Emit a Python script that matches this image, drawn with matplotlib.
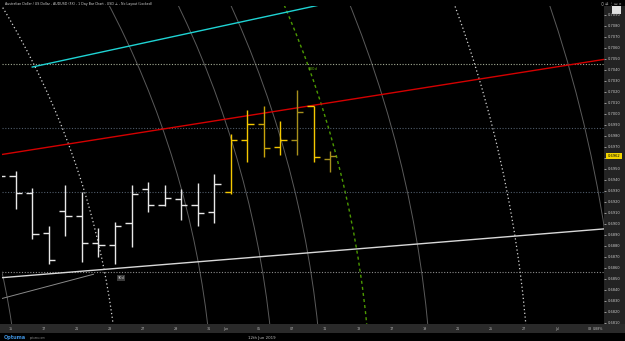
import numpy as np
import matplotlib
matplotlib.use('Agg')
from matplotlib import pyplot as plt
import matplotlib.patches as mpatches
import matplotlib.transforms as mtransforms

# AUDUSD daily bars, index 0 = 15 May 2019 (trading days only)
bar_idx = np.arange(-1, 20)
opens = [0.6950, 0.6944, 0.6928, 0.6892, 0.6912, 0.6907, 0.6883, 0.6881, 0.6901, 0.6932, 0.6917,
         0.6923, 0.6917, 0.6911, 0.6929, 0.6976, 0.6991, 0.6970, 0.6976, 0.7007, 0.6959]
highs = [0.6960, 0.6948, 0.6933, 0.6898, 0.6935, 0.6929, 0.6896, 0.6902, 0.6935, 0.6938, 0.6935,
         0.6932, 0.6937, 0.6945, 0.6982, 0.7004, 0.7007, 0.6994, 0.7022, 0.7007, 0.6966]
lows = [0.6935, 0.6914, 0.6886, 0.6864, 0.6889, 0.6865, 0.6870, 0.6864, 0.6879, 0.6911, 0.6916,
        0.6904, 0.6898, 0.6901, 0.6927, 0.6956, 0.6961, 0.6963, 0.6963, 0.6956, 0.6947]
closes = [0.6944, 0.6928, 0.6891, 0.6867, 0.6907, 0.6883, 0.6881, 0.6898, 0.6927, 0.6917, 0.6924,
          0.6917, 0.6910, 0.6936, 0.6976, 0.6991, 0.6969, 0.6976, 0.7002, 0.6961, 0.6962]
yellow_cols = ['#f5c800', '#f5c800', '#c9a40a', '#f5c800', '#a8901c', '#f5c800', '#a8901c']
bar_cols = ['#e8e8e8'] * 14 + yellow_cols
last_price = 0.6962

# x axis labels (every other trading day)
xtick_idx = [0, 2, 4, 6, 8, 10, 12, 13, 15, 17, 19, 21, 23, 25, 27, 29, 31, 33, 35]
xtick_lab = ['15', '17', '21', '23', '27', '29', '31', 'Jun', '05', '07', '11', '13',
             '17', '19', '21', '25', '27', 'Jul', '03']
yticks = np.round(np.arange(0.6810, 0.7091, 0.001), 4)

# drawing tools
cyan_line = ([1, 20], [0.70427, 0.71044])
red_line = ([-1, 36], [0.69628, 0.70507])
white_line = ([-1, 36], [0.68510, 0.68961])
grey_line = ([-1, 4.7], [0.68316, 0.68543])
hlevels = [0.70455, 0.69873, 0.69288, 0.68566]
hcolors = ['#a3ab94', '#4f5b69', '#4f5b69', '#8c8c8c']

arc_center = (-43.25, 0.67127)
price_per_bar = 16.55 / 11000.0
grey_arcs = [43.48, 55.22, 58.95, 61.83, 68.45, 79.76]
white_arcs = [49.55, 74.35]
green_arc = 64.78

fig = plt.figure(figsize=(6.25, 3.41), dpi=100, facecolor='black')

# right price panel and bottom date strip
panel = fig.add_axes([604/625, 17/341, 21/625, 318/341], facecolor='#232323')
panel.set_xticks([]); panel.set_yticks([])
for s in panel.spines.values():
    s.set_visible(False)
strip = fig.add_axes([0, 8/341, 1, 9/341], facecolor='#2a2a2a')
strip.set_xticks([]); strip.set_yticks([])
for s in strip.spines.values():
    s.set_visible(False)

ax = fig.add_axes([2/625, 17/341, 602/625, 318/341], facecolor='black', zorder=3)
ax.set_xlim(-0.828, 35.55)
ax.set_ylim(0.680909, 0.709818)

for r in grey_arcs:
    ax.add_patch(mpatches.Arc(arc_center, 2*r, 2*r*price_per_bar, theta1=0, theta2=90,
                              color='#5a5a5a', lw=0.7, zorder=1))
for r in white_arcs:
    ax.add_patch(mpatches.Arc(arc_center, 2*r, 2*r*price_per_bar, theta1=0, theta2=90,
                              color='#d8d8d8', lw=0.9, ls=(0, (1, 2)), zorder=1))
ax.add_patch(mpatches.Arc(arc_center, 2*green_arc, 2*green_arc*price_per_bar, theta1=0, theta2=90,
                          color='#4c9a00', lw=1.0, ls=(0, (2.2, 2.2)), zorder=1))

for lvl, c in zip(hlevels, hcolors):
    ax.axhline(lvl, color=c, lw=0.8, ls=(0, (1, 1.5)), zorder=1)

ax.plot(*cyan_line, color='#1fd3d3', lw=1.0, zorder=2)
ax.plot(*red_line, color='#d40000', lw=1.0, zorder=2)
ax.plot(*white_line, color='#d8d8d8', lw=1.0, zorder=2)
ax.plot(*grey_line, color='#8a8a8a', lw=0.7, zorder=2)

ax.text(17.96, 0.70409, '180d', color='#5fae10', fontsize=2.8, ha='center', va='center')
ax.text(6.36, 0.68509, '90d', color='#d0d0d0', fontsize=2.5, ha='center', va='center',
        bbox=dict(boxstyle='square,pad=0.3', fc='#3a3a3a', ec='none'))

# OHLC bars
ax.vlines(bar_idx, lows, highs, colors=bar_cols, lw=1.0, zorder=4)
ax.hlines(opens, bar_idx - 0.38, bar_idx, colors=bar_cols, lw=1.0, zorder=4)
ax.hlines(closes, bar_idx, bar_idx + 0.38, colors=bar_cols, lw=1.0, zorder=4)

for s in ax.spines.values():
    s.set_visible(False)
ax.yaxis.tick_right()
ax.set_yticks(yticks)
ax.set_yticklabels(['%.4f' % v for v in yticks])
ax.tick_params(axis='y', colors='#c8c8c8', labelsize=2.6, length=1.5, width=0.5, pad=1.2)
ax.set_xticks(np.array(xtick_idx) - 0.3)
ax.set_xticklabels(xtick_lab)
ax.tick_params(axis='x', colors='#b4b4b4', labelsize=2.4, length=0, pad=2.0)

# current price tag
trans = mtransforms.blended_transform_factory(ax.transAxes, ax.transData)
ax.text(1.006, last_price, '%.4f' % last_price, transform=trans, fontsize=2.6, color='black',
        va='center', ha='left', clip_on=False, zorder=6,
        bbox=dict(boxstyle='square,pad=0.35', fc='#f2d400', ec='none'))

fig.text(5/625, 1 - 3.5/341, 'Australian Dollar / US Dollar - AUDUSD (FX) - 1 Day Bar Chart - USD \u2220 - No Layout (Locked)',
         fontsize=2.3, color='#cfcfcf', va='center')
fig.text(0.995, 1 - 3.5/341, '\u25cb \u21c4 \u22ee \u25ad \u00d7', fontsize=2.6, color='#bbbbbb',
         va='center', ha='right')
fig.patches.append(mpatches.Rectangle((612/625, 1 - 14/341), 9/625, 8/341, transform=fig.transFigure,
                                      fc='#e0e0e0', ec='none'))
fig.text(603/625, 1 - 328.5/341, '0.88%', fontsize=2.3, color='#bbbbbb', va='center', ha='right')
fig.text(4/625, 1 - 337.5/341, 'Optuma', fontsize=3.6, color='#3d8ed8', va='center', fontweight='bold')
fig.text(30/625, 1 - 337.5/341, 'optuma.com', fontsize=1.8, color='#8a8a8a', va='center')
fig.text(262/625, 1 - 337.5/341, '12th Jun 2019', fontsize=2.8, color='#bdbdbd', va='center', ha='center')

fig.savefig('out.png', dpi=100, facecolor='black')
